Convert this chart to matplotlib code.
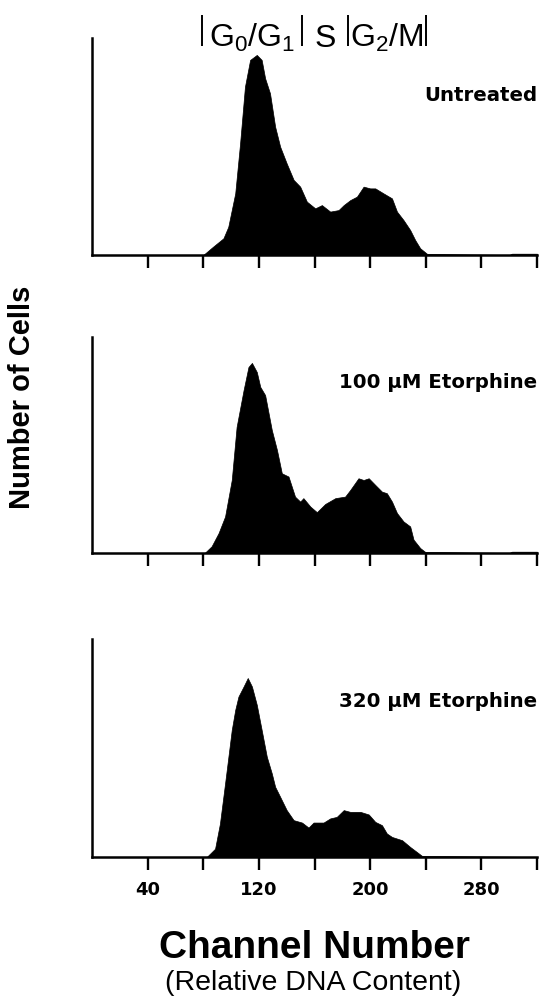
import matplotlib
matplotlib.use("Agg")
import matplotlib.pyplot as plt
import matplotlib.transforms as mtransforms

plt.rcParams['mathtext.fontset'] = 'custom'
plt.rcParams['mathtext.rm'] = 'Liberation Sans'
plt.rcParams['mathtext.it'] = 'Liberation Sans:italic'
plt.rcParams['mathtext.bf'] = 'Liberation Sans:bold'

# ---- data (relative cell counts vs channel number) ----
untreated_ch = [0, 80, 87, 94.5, 98, 103, 106.5, 110, 113.7, 118.5, 122, 124.5, 128, 131.7,
                135.3, 140, 145, 149.7, 154.5, 160.5, 165.3, 171.3, 177.3, 181, 185.7, 190.5,
                195.3, 200, 203.7, 209.6, 215.7, 219.3, 224, 228.8, 232.4, 236, 241, 300, 302, 320]
untreated_n = [0, 0, 0.038, 0.077, 0.13, 0.284, 0.515, 0.776, 0.899, 0.922, 0.899, 0.814, 0.745,
               0.591, 0.499, 0.422, 0.346, 0.315, 0.246, 0.215, 0.230, 0.200, 0.207, 0.230, 0.253,
               0.269, 0.315, 0.307, 0.307, 0.284, 0.261, 0.200, 0.161, 0.115, 0.069, 0.031, 0.005,
               0.0, 0.006, 0.006]

et100_ch = [0, 81, 86, 91, 95.7, 100.5, 104, 109, 112.5, 115, 118.5, 121, 124.5, 129.3, 133,
            136.5, 141.3, 146, 149.7, 152, 157, 161.7, 167.7, 175, 182, 185.7, 191.6, 195.3, 199,
            203.7, 208.5, 212, 215.7, 219.3, 224, 228.8, 231.2, 236, 239.6, 300, 302, 320]
et100_n = [0, 0, 0.031, 0.092, 0.169, 0.338, 0.584, 0.754, 0.861, 0.880, 0.838, 0.769, 0.731,
           0.569, 0.477, 0.369, 0.354, 0.261, 0.238, 0.254, 0.215, 0.189, 0.227, 0.254, 0.261,
           0.292, 0.346, 0.338, 0.346, 0.315, 0.284, 0.277, 0.238, 0.185, 0.146, 0.123, 0.062,
           0.023, 0.005, 0.0, 0.006, 0.006]

et320_ch = [0, 82.5, 88.5, 92, 95.7, 100.5, 103, 105.3, 109, 112, 115, 118.5, 122, 125.7, 129.3,
            131.7, 135.3, 140, 145, 151, 155.7, 159.3, 166.5, 171.3, 176, 181, 185.7, 193, 199,
            203.7, 208.5, 212, 215.7, 223, 228.8, 233.6, 237.3, 320]
et320_n = [0, 0, 0.038, 0.153, 0.338, 0.583, 0.675, 0.736, 0.782, 0.821, 0.782, 0.698, 0.583,
           0.460, 0.383, 0.322, 0.276, 0.215, 0.169, 0.158, 0.135, 0.158, 0.158, 0.177, 0.184,
           0.215, 0.207, 0.207, 0.195, 0.161, 0.146, 0.108, 0.092, 0.077, 0.046, 0.023, 0.005, 0]

panel_labels = ["Untreated", "100 \u03bcM Etorphine", "320 \u03bcM Etorphine"]
tick_values = [40, 80, 120, 160, 200, 240, 280, 320]
tick_labels = ["40", "", "120", "", "200", "", "280", ""]
gate_bounds = [79, 151, 184, 240]
gate_names = ["G$_\\mathrm{0}$/G$_\\mathrm{1}$", "S", "G$_\\mathrm{2}$/M"]

W, H = 542, 1002
fig = plt.figure(figsize=(W / 100, H / 100), dpi=100)

left = 92 / W
width = 445 / W
panels = [(38, 255), (337, 553), (639, 857)]  # (top px, bottom px)
label_y = [0.711, 0.762, 0.69]
series = [(untreated_ch, untreated_n), (et100_ch, et100_n), (et320_ch, et320_n)]

axes = []
for i, ((top, bot), (ch, n)) in enumerate(zip(panels, series)):
    ax = fig.add_axes([left, (H - bot) / H, width, (bot - top) / H])
    ax.fill_between(ch, n, 0, color='black', linewidth=0.5, edgecolor='black')
    ax.set_xlim(0, 320)
    ax.set_ylim(0, 1)
    for s in ['top', 'right']:
        ax.spines[s].set_visible(False)
    for s in ['left', 'bottom']:
        ax.spines[s].set_linewidth(1.8)
        ax.spines[s].set_color('black')
    ax.set_yticks([])
    ax.set_xticks(tick_values)
    ax.tick_params(axis='x', direction='out', length=9, width=1.7, pad=8, colors='black')
    if i == 2:
        ax.set_xticklabels(tick_labels, fontfamily='DejaVu Sans', fontweight='bold', fontsize=13)
    else:
        ax.set_xticklabels([])
    ax.text(1.0, label_y[i], panel_labels[i], transform=ax.transAxes, ha='right', va='baseline',
            fontfamily='DejaVu Sans', fontweight='bold', fontsize=14.2)
    axes.append(ax)

# gate header on top panel
ax0 = axes[0]
trans = mtransforms.blended_transform_factory(ax0.transData, ax0.transAxes)
for g in gate_bounds:
    ax0.plot([g, g], [0.962, 1.106], color='black', linewidth=1.4, transform=trans,
             clip_on=False, solid_capstyle='butt')
for k, name in enumerate(gate_names):
    xc = (gate_bounds[k] + gate_bounds[k + 1]) / 2
    ax0.text(xc, 0.96, name, transform=trans, ha='center', va='baseline',
             fontfamily='Liberation Sans', fontsize=23, clip_on=False)

fig.text(22 / W, (H - 397) / H, "Number of Cells", rotation=90, ha='center', va='center',
         fontfamily='Liberation Sans', fontweight='bold', fontsize=21)
fig.text(314.5 / W, (H - 958.3) / H, "Channel Number", ha='center', va='baseline',
         fontfamily='Liberation Sans', fontweight='bold', fontsize=28)
fig.text(313.5 / W, (H - 990) / H, "(Relative DNA Content)", ha='center', va='baseline',
         fontfamily='Liberation Sans', fontsize=20.5)

fig.savefig("out.png", dpi=100, facecolor='white')
